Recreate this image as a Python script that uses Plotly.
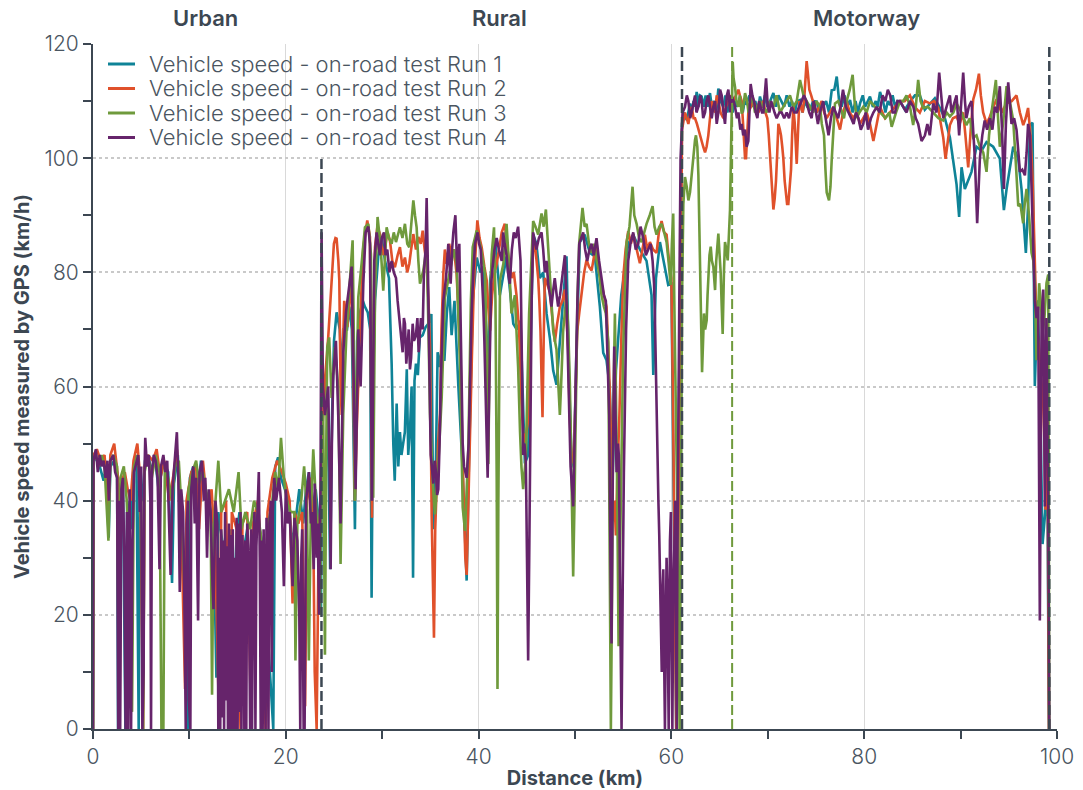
import plotly.graph_objects as go

# GPS speed readings (distance km, speed km/h) for each on-road run
run1_trace = [
    (0.0, 0), (0.05, 48), (0.4, 47), (0.7, 46), (1.1, 43.5), (1.35, 46), (1.63, 33.5), (1.8, 46), (2.2, 47),
    (2.5, 45), (2.6, 0), (2.75, 42), (3.1, 44), (3.36, 0), (3.55, 40), (3.9, 35), (4.2, 46), (4.5, 48),
    (4.74, 0), (4.84, 43), (5.1, 40), (5.4, 47), (5.7, 48), (6.1, 45), (6.4, 48), (6.8, 42), (7.3, 47),
    (7.8, 45), (8.2, 25.6), (8.4, 43), (8.8, 48), (9.1, 38), (9.6, 20), (9.76, 0), (9.9, 0), (10.05, 44),
    (10.4, 46), (10.8, 40), (11.2, 47), (11.6, 42), (12.0, 40), (12.5, 36), (12.8, 9), (13.0, 38), (13.4, 33),
    (13.84, 24.7), (14.2, 35), (14.6, 20), (14.9, 34), (15.2, 38), (15.5, 30), (16.0, 35), (16.5, 12),
    (16.8, 38), (17.2, 36), (17.6, 32), (18.0, 20), (18.4, 8.5), (18.7, 0), (18.9, 45.9), (19.2, 47.6),
    (19.5, 44), (19.9, 42), (20.3, 40), (20.7, 32), (21.0, 36), (21.4, 42), (21.8, 36), (22.1, 42),
    (22.4, 45), (22.7, 38), (23.1, 42), (23.5, 35), (23.65, 20),
    (23.75, 55), (23.95, 62), (24.2, 60), (24.45, 45), (24.6, 28), (24.8, 55), (25.0, 68), (25.27, 73),
    (25.6, 70), (25.8, 62), (26.0, 70), (26.35, 70), (26.6, 74), (26.85, 70), (27.17, 35), (27.4, 68),
    (27.7, 73), (28.0, 75), (28.2, 74), (28.5, 73), (28.75, 70), (28.9, 23), (29.05, 60), (29.25, 75),
    (29.6, 83), (29.95, 86), (30.3, 82), (30.7, 79), (30.98, 64), (31.15, 50), (31.3, 43.5), (31.5, 57),
    (31.67, 46), (31.84, 52), (32.0, 48), (32.35, 52), (32.55, 63), (32.7, 48), (32.9, 53), (33.05, 60),
    (33.2, 26.5), (33.35, 61), (33.5, 64), (33.7, 62), (33.9, 68.6), (34.2, 69), (34.5, 70.4), (34.8, 71),
    (35.1, 72.7), (35.3, 35), (35.55, 44.6), (35.75, 66), (36.0, 63.4), (36.2, 68), (36.45, 64.5),
    (36.7, 72.7), (36.95, 77.4), (37.2, 69), (37.5, 75), (37.9, 60), (38.3, 47), (38.76, 26), (39.0, 47),
    (39.4, 75), (39.8, 82.6), (40.2, 80), (40.5, 81), (40.8, 70), (41.0, 60), (41.2, 78.6), (41.7, 86),
    (42.2, 76), (42.9, 82.8), (43.6, 71), (43.95, 70), (44.35, 71.5), (44.62, 54), (44.8, 46.5), (45.14, 48),
    (45.38, 66.5), (45.66, 86.6), (46.0, 85), (46.35, 79), (46.7, 80), (47.05, 72.8), (47.4, 68.4),
    (47.74, 62.8), (48.08, 60.3), (48.43, 67.8), (48.77, 76), (49.12, 82.8), (49.4, 60.3), (49.64, 47.7),
    (49.88, 45.8), (50.15, 66.5), (50.5, 85.3), (51.0, 86.6), (51.55, 83.4), (52.06, 82.8), (52.58, 74),
    (52.93, 65.9), (53.27, 64.6), (53.6, 60), (53.9, 44), (54.25, 62.8), (54.8, 76), (55.52, 85),
    (56.04, 86.6), (56.73, 84), (57.42, 82), (57.94, 76), (58.12, 62), (58.4, 79), (58.81, 85.3),
    (59.16, 82), (59.5, 79), (59.67, 77.8), (60.0, 78), (60.3, 30), (60.5, 0), (60.8, 60),
    (61.1, 106), (61.3, 108), (61.59, 106.7), (61.75, 108), (61.93, 109.6), (62.1, 108), (62.3, 110),
    (62.45, 109), (62.62, 111.6), (62.8, 109), (62.95, 111), (63.14, 110.8), (63.35, 109), (63.55, 111),
    (63.75, 109), (64.0, 111.4), (64.2, 109), (64.45, 110), (64.65, 108), (64.87, 112.2), (65.1, 110),
    (65.39, 109), (65.6, 111), (65.8, 108), (66.08, 110.2), (66.35, 108), (66.6, 110), (66.85, 109),
    (67.12, 110.8), (67.4, 108), (67.6, 110), (67.81, 109.6), (68.1, 111), (68.4, 109), (68.7, 110),
    (68.95, 108), (69.19, 110.8), (69.45, 109), (69.7, 111), (69.95, 109), (70.25, 110), (70.58, 111.4),
    (70.85, 109), (71.1, 111), (71.4, 110), (71.7, 109), (71.96, 111), (72.25, 109), (72.5, 110),
    (72.8, 108), (73.05, 110), (73.34, 110.2), (73.6, 108), (73.85, 110), (74.1, 109), (74.38, 108.4),
    (74.7, 110), (75.07, 109.9), (75.4, 108), (75.76, 109), (76.05, 110), (76.35, 108), (76.63, 111.9),
    (76.9, 112), (77.15, 114.3), (77.4, 110), (77.66, 109), (77.95, 111), (78.25, 109), (78.53, 110.2),
    (78.8, 108), (79.1, 110), (79.35, 108), (79.57, 109.6), (79.85, 111), (80.1, 109), (80.35, 110),
    (80.6, 110.8), (80.9, 109), (81.2, 110), (81.4, 109), (81.64, 111.6), (81.95, 110), (82.2, 108),
    (82.45, 110), (82.68, 109.3), (82.95, 111), (83.2, 109), (83.45, 110), (83.72, 109.9),
    (84.22, 108.5), (84.74, 109.9), (85.26, 111), (85.77, 111), (86.29, 108.5), (86.81, 109.6),
    (87.33, 110.5), (87.85, 108.8), (88.37, 107), (88.89, 103.6), (89.23, 99.1), (89.58, 95.4),
    (89.85, 89.7), (90.1, 98.4), (90.44, 94.6), (90.79, 96.1), (91.13, 97.6), (91.65, 102), (92.17, 101.3),
    (92.69, 102.8), (93.38, 102), (94.07, 99.9), (94.49, 90.9), (94.77, 94.6), (95.46, 102), (95.98, 99.9),
    (96.32, 94.6), (96.77, 83.4), (97.01, 92), (97.19, 105.8), (97.46, 106.2), (97.7, 60.1), (97.98, 75.1),
    (98.22, 61.6), (98.5, 32.4), (98.78, 38), (98.98, 50), (99.16, 0),
]

run2_trace = [
    (0.0, 0), (0.05, 48), (0.4, 49), (0.8, 47), (1.2, 48), (1.6, 38), (1.8, 48), (2.2, 50), (2.6, 44),
    (2.75, 0), (2.9, 43), (3.3, 45), (3.6, 42), (3.9, 40), (4.2, 47), (4.6, 50), (4.9, 44), (5.2, 0),
    (5.35, 46), (5.7, 48), (6.2, 47), (6.6, 49), (7.0, 44), (7.4, 47), (7.9, 40), (8.3, 44), (8.7, 49),
    (9.1, 40), (9.55, 7), (9.7, 40), (10.2, 45), (10.7, 46), (11.0, 35), (11.4, 47), (11.9, 38), (12.3, 42),
    (12.7, 30), (13.1, 0), (13.3, 38), (13.8, 40), (14.2, 0), (14.4, 38), (14.9, 35), (15.3, 0), (15.5, 36),
    (16.0, 38), (16.4, 0), (16.6, 36), (17.1, 40), (17.5, 30), (17.9, 0), (18.1, 38), (18.6, 44), (19.1, 47),
    (19.6, 45), (20.0, 43), (20.4, 40), (20.7, 22), (20.9, 38), (21.3, 36), (21.7, 38), (22.0, 4), (22.2, 40),
    (22.6, 44), (22.85, 35), (23.0, 10), (23.2, 0), (23.4, 32), (23.6, 40), (23.75, 52),
    (23.88, 55), (24.1, 62), (24.4, 68.6), (24.75, 78.6), (24.99, 85), (25.15, 86), (25.27, 85.9),
    (25.45, 82), (25.55, 78.6), (25.68, 60), (25.8, 55), (25.95, 68), (26.06, 75), (26.38, 70.4),
    (26.6, 75), (26.83, 79), (27.0, 62), (27.17, 40), (27.35, 52), (27.52, 61), (27.8, 75), (28.04, 84.4),
    (28.25, 87), (28.45, 89.1), (28.73, 86.2), (28.94, 37), (29.1, 70), (29.25, 84.4), (29.5, 88),
    (29.77, 86.7), (30.05, 83), (30.29, 84.4), (30.55, 87), (30.8, 85.6), (31.05, 82), (31.32, 80.9),
    (31.6, 83), (31.84, 84.4), (32.1, 81), (32.36, 82.6), (32.6, 80), (32.81, 81.5), (33.0, 84),
    (33.23, 86.7), (33.5, 84), (33.75, 86.2), (34.0, 85), (34.2, 87.3), (34.4, 84), (34.61, 81.5),
    (34.8, 75), (34.96, 66.9), (35.13, 37.6), (35.28, 25), (35.37, 16), (35.5, 35), (35.65, 43.5),
    (35.8, 50), (36.0, 55.2), (36.15, 70), (36.34, 79.7), (36.5, 84), (36.69, 81.5), (36.95, 85),
    (37.2, 82.6), (37.45, 84), (37.72, 79.7), (37.95, 70), (38.14, 64), (38.3, 50), (38.49, 40),
    (38.62, 30), (38.76, 27), (38.9, 38), (39.1, 48), (39.3, 65), (39.52, 78.6), (39.7, 85), (39.87, 89.1),
    (40.1, 86), (40.32, 84.4), (40.6, 81), (40.84, 78.6), (41.0, 74), (41.19, 69.8), (41.4, 76),
    (41.65, 80), (41.88, 81.5), (42.2, 85.3), (42.4, 87), (42.72, 88.5), (43.0, 84), (43.41, 79),
    (43.65, 80), (43.93, 76), (44.2, 70), (44.45, 57), (44.62, 52), (44.8, 50.2), (44.95, 52), (45.14, 54),
    (45.3, 70), (45.49, 79), (45.66, 84), (45.83, 85.3), (46.0, 82), (46.18, 79), (46.3, 75), (46.42, 69.7),
    (46.55, 60), (46.63, 54.6), (46.75, 68), (46.87, 79), (47.1, 78), (47.39, 76.6), (47.65, 72),
    (47.91, 67.8), (48.15, 71), (48.43, 74), (48.7, 75), (48.95, 77), (49.12, 72), (49.29, 66.5),
    (49.45, 55), (49.64, 47.7), (49.88, 46.5), (50.05, 58), (50.23, 69.7), (50.45, 73), (50.68, 76.6),
    (50.95, 80), (51.2, 82.2), (51.45, 81), (51.72, 80.3), (51.98, 83), (52.23, 85.3), (52.5, 80),
    (52.75, 77.8), (53.0, 76), (53.27, 74), (53.5, 65), (53.69, 54), (53.82, 45), (53.96, 36.4),
    (54.1, 40), (54.24, 33.9), (54.4, 45), (54.59, 54), (54.8, 68), (55.0, 79), (55.25, 84), (55.52, 87.2),
    (55.8, 85), (56.04, 86.6), (56.4, 84), (56.73, 81.6), (57.0, 84), (57.25, 86.6), (57.5, 84),
    (57.77, 85.3), (58.1, 84), (58.46, 83.4), (58.7, 87), (58.98, 89), (59.25, 87), (59.5, 86.6),
    (59.75, 82), (60.0, 79), (60.15, 60), (60.26, 41.4), (60.4, 20), (60.5, 0), (60.65, 20), (60.8, 50),
    (60.95, 85), (61.1, 105),
    (61.41, 108), (61.6, 107), (61.76, 106), (61.95, 108), (62.1, 109), (62.3, 107), (62.45, 107),
    (62.65, 106), (62.8, 105), (62.95, 104), (63.14, 103), (63.3, 102), (63.49, 101), (63.65, 102),
    (63.83, 104), (64.0, 107), (64.18, 110), (64.35, 109), (64.53, 108), (64.7, 111), (64.87, 110),
    (65.1, 108), (65.39, 107), (65.65, 109), (65.91, 110), (66.2, 111), (66.43, 110), (66.7, 111),
    (66.95, 112), (67.1, 111), (67.29, 110), (67.4, 107), (67.53, 104), (67.64, 100), (67.74, 100),
    (67.85, 104), (67.98, 108), (68.25, 109), (68.5, 110), (68.75, 109), (69.02, 108), (69.3, 109),
    (69.54, 110), (69.75, 108), (69.95, 107), (70.1, 104), (70.23, 100), (70.4, 95), (70.58, 91),
    (70.72, 93), (70.85, 96), (70.98, 101), (71.1, 106), (71.25, 105), (71.37, 104), (71.5, 102),
    (71.61, 100), (71.75, 96), (71.89, 93), (72.0, 92), (72.13, 92), (72.28, 95), (72.41, 98),
    (72.52, 104), (72.65, 109), (72.8, 106), (72.9, 101), (73.0, 99), (73.12, 104), (73.27, 110),
    (73.45, 109), (73.62, 108), (73.8, 111), (73.92, 114), (74.03, 117), (74.15, 115), (74.31, 112),
    (74.5, 111), (74.66, 110), (74.85, 109), (75.07, 108), (75.3, 109), (75.59, 110), (75.85, 108),
    (76.11, 107), (76.45, 108), (76.8, 109), (77.15, 107), (77.49, 105), (77.8, 108), (78.18, 110),
    (78.5, 108), (78.88, 107), (79.2, 108), (79.57, 106), (79.9, 107), (80.26, 108), (80.6, 106),
    (80.95, 103), (81.3, 106), (81.64, 109), (82.15, 107), (82.68, 108), (83.2, 109), (83.72, 110),
    (84.2, 110), (84.74, 111), (85.25, 109), (85.77, 108), (86.3, 110), (86.81, 109.6), (87.25, 110),
    (87.68, 108.8), (87.95, 106), (88.2, 103.6), (88.44, 99.9), (88.65, 103), (88.89, 105.8), (89.2, 107),
    (89.58, 107.3), (89.9, 106), (90.27, 108), (90.5, 104), (90.79, 98.4), (91.05, 105), (91.31, 110.3),
    (91.6, 112), (91.9, 114.8), (92.1, 111), (92.34, 108), (92.7, 106), (93.04, 107.3), (93.4, 109),
    (93.73, 110.3), (94.25, 108), (94.77, 109.6), (95.3, 110), (95.8, 111), (96.15, 108), (96.5, 105.8),
    (96.75, 107), (97.0, 108.8), (97.25, 104), (97.46, 96.9), (97.65, 85), (97.88, 70.6), (98.05, 68),
    (98.22, 64.6), (98.4, 60), (98.57, 57), (98.7, 50), (98.81, 38.4), (98.9, 55), (98.98, 65), (99.16, 0),
]

run3_trace = [
    (0.0, 0), (0.05, 47), (0.3, 48), (0.6, 46), (0.9, 48), (1.2, 46), (1.6, 33), (1.8, 47), (2.1, 48),
    (2.5, 46), (2.7, 0), (2.85, 44), (3.2, 46), (3.5, 40), (3.8, 30), (4.05, 3), (4.25, 46), (4.6, 48),
    (5.0, 40), (5.2, 0), (5.35, 45), (5.7, 48), (6.1, 44), (6.5, 48), (6.9, 45), (7.1, 0), (7.3, 0),
    (7.45, 46), (7.8, 44), (8.2, 40), (8.5, 46), (8.9, 47), (9.3, 35), (9.7, 12), (9.9, 42), (10.3, 45),
    (10.7, 47), (11.0, 43), (11.4, 45), (11.9, 40), (12.2, 38), (12.35, 6), (12.5, 35), (12.7, 40),
    (13.0, 47), (13.3, 38), (13.7, 40), (14.1, 42), (14.6, 38), (15.1, 45), (15.4, 35), (15.8, 38),
    (16.3, 35), (16.7, 40), (17.1, 38), (17.4, 34), (17.8, 25), (18.2, 36), (18.6, 40), (18.9, 45),
    (19.2, 42), (19.5, 51), (19.8, 44), (20.1, 40), (20.5, 38), (20.9, 38), (21.0, 12), (21.2, 36),
    (21.6, 40), (21.9, 46), (22.2, 38), (22.39, 12), (22.6, 38), (22.85, 49), (23.19, 37.6), (23.4, 30),
    (23.54, 20), (23.7, 45),
    (23.88, 55.2), (24.06, 13), (24.2, 50), (24.3, 66.9), (24.5, 68.6), (24.75, 58), (25.1, 66.9),
    (25.44, 59.8), (25.68, 28.9), (25.96, 55.2), (26.3, 69.8), (26.65, 78.6), (26.93, 85.6), (27.05, 70),
    (27.17, 40), (27.35, 60), (27.52, 75.6), (27.86, 81.5), (28.21, 87.9), (28.56, 88.5), (28.83, 83.2),
    (29.07, 40.5), (29.25, 75.6), (29.52, 89.7), (29.84, 84.4), (30.11, 76.8), (30.46, 87.9), (30.7, 86),
    (30.98, 85), (31.2, 87), (31.43, 85.3), (31.84, 87.9), (32.1, 86), (32.36, 88.5), (32.6, 85),
    (32.81, 84.4), (33.0, 88), (33.23, 92.6), (33.4, 90), (33.57, 87.9), (33.75, 82), (33.92, 78),
    (34.26, 80.3), (34.45, 83), (34.61, 84.4), (34.8, 70), (34.96, 55.2), (35.23, 43.5), (35.48, 37.6),
    (35.82, 46.4), (36.17, 58), (36.51, 75.6), (36.86, 78.6), (37.2, 81.5), (37.45, 84), (37.72, 81.5),
    (38.07, 64), (38.35, 38.8), (38.59, 34.7), (38.94, 49.3), (39.2, 75), (39.39, 84.4), (39.8, 87.3),
    (40.22, 84.4), (40.67, 79.7), (40.85, 65), (41.01, 46.4), (41.2, 75), (41.36, 83.2), (41.6, 87.9),
    (41.75, 75), (41.88, 43.5), (41.96, 7), (42.05, 40), (42.22, 78.6), (42.57, 81.5), (42.9, 88.5),
    (43.2, 80), (43.41, 72.8), (43.76, 76), (44.1, 63.4), (44.3, 52), (44.45, 45.8), (44.62, 42),
    (44.9, 47.7), (45.24, 72.8), (45.66, 89), (45.9, 88), (46.18, 86.6), (46.53, 90.3), (46.75, 88),
    (46.98, 91), (47.2, 85), (47.39, 79), (47.74, 69.7), (48.08, 66.5), (48.25, 60), (48.43, 55),
    (48.6, 62), (48.77, 69.7), (49.12, 76), (49.3, 70), (49.47, 60.3), (49.65, 40), (49.81, 26.7),
    (49.95, 40), (50.09, 54), (50.25, 75), (50.44, 85.3), (50.78, 91.3), (51.0, 88), (51.2, 88.5),
    (51.45, 85), (51.72, 83.4), (52.0, 85), (52.23, 82.2), (52.5, 80), (52.75, 76), (53.0, 74),
    (53.2, 72.8), (53.45, 67.8), (53.6, 30), (53.72, 0), (53.85, 25), (53.96, 54), (54.14, 72.8),
    (54.25, 60), (54.38, 41.4), (54.52, 14.5), (54.62, 25), (54.73, 41.4), (55.0, 66.5), (55.35, 85.3),
    (55.65, 88), (55.97, 95), (56.15, 90), (56.39, 88.5), (56.65, 86), (56.91, 85.3), (57.15, 87),
    (57.42, 88.5), (57.75, 90), (58.05, 91.6), (58.25, 88), (58.46, 86.6), (58.75, 88), (58.98, 88.5),
    (59.25, 87), (59.5, 85.3), (59.7, 82), (59.92, 77.8), (60.05, 85), (60.19, 90.3), (60.3, 75),
    (60.45, 60), (60.6, 40), (60.75, 20), (60.85, 0), (61.0, 40), (61.1, 75),
    (61.24, 92), (61.41, 96.7), (61.59, 95), (61.76, 92.6), (61.93, 94), (62.1, 97.3), (62.3, 100),
    (62.45, 103.2), (62.55, 104), (62.69, 102), (62.8, 97), (62.9, 90), (63.04, 75), (63.18, 62.5),
    (63.28, 68), (63.38, 72.8), (63.5, 70), (63.66, 71.6), (63.75, 76), (63.83, 79), (63.95, 83),
    (64.08, 84.5), (64.2, 82), (64.35, 81), (64.45, 78), (64.53, 76.9), (64.65, 82), (64.75, 85),
    (64.87, 86.8), (65.0, 83), (65.11, 80), (65.22, 74), (65.32, 69.2), (65.45, 80), (65.56, 85.3),
    (65.7, 84), (65.84, 82.1), (65.95, 86), (66.08, 90.9), (66.22, 105), (66.36, 116.9), (66.45, 114),
    (66.6, 112.5), (66.75, 110), (66.95, 109), (67.1, 111), (67.29, 107.8), (67.45, 109), (67.64, 111.4),
    (67.85, 110), (68.0, 108), (68.16, 109.6), (68.4, 111), (68.67, 108), (68.9, 109), (69.19, 110),
    (69.5, 109), (69.89, 108), (70.2, 110), (70.58, 109), (70.9, 111), (71.27, 108), (71.6, 109),
    (71.96, 110), (72.3, 111), (72.65, 109), (73.0, 110), (73.34, 113.7), (73.7, 111), (74.03, 110),
    (74.35, 109), (74.72, 108), (75.05, 110), (75.42, 109), (75.6, 106), (75.83, 104), (75.98, 98),
    (76.11, 94), (76.35, 92.6), (76.5, 95), (76.63, 99.7), (76.8, 105), (76.97, 109.6), (77.3, 110),
    (77.66, 108), (77.9, 107), (78.18, 110), (78.5, 112), (78.8, 114.6), (79.0, 110), (79.22, 107),
    (79.5, 108), (79.91, 109), (80.25, 108), (80.6, 110), (81.1, 109), (81.64, 108), (82.2, 107),
    (82.6, 108), (82.85, 105.5), (83.3, 108), (83.72, 110),
    (84.05, 110), (84.39, 111), (84.75, 109), (85.08, 105.8), (85.35, 109), (85.6, 113.7), (85.85, 110),
    (86.12, 108.8), (86.6, 109), (87.16, 108), (87.7, 107), (88.2, 106.6), (88.55, 108), (88.89, 107.3),
    (89.25, 108), (89.58, 109.6), (90.1, 108), (90.6, 105.8), (90.95, 107), (91.31, 103.6), (91.65, 104),
    (92.0, 102), (92.35, 101), (92.69, 97.6), (92.95, 104), (93.21, 108), (93.45, 111), (93.66, 113.7),
    (93.85, 108), (94.07, 102), (94.4, 106), (94.77, 112.6), (95.1, 110), (95.46, 106.6), (95.7, 100),
    (95.98, 91.6), (96.2, 92), (96.49, 88.6), (96.65, 92), (96.84, 94.6), (97.1, 90), (97.36, 83.4),
    (97.55, 82), (97.7, 78.1), (97.88, 64.6), (98.0, 70), (98.15, 78.1), (98.35, 74), (98.5, 69.1),
    (98.7, 72), (98.91, 78.1), (99.09, 79.6), (99.2, 0),
]

run4_trace = [
    (0.0, 0), (0.05, 47), (0.3, 49), (0.5, 45), (0.7, 48), (0.9, 46), (1.1, 47), (1.3, 44), (1.5, 47),
    (1.65, 40), (1.8, 47), (2.1, 48), (2.3, 45), (2.5, 44), (2.62, 0), (2.72, 40), (2.82, 0), (2.95, 42),
    (3.1, 44), (3.25, 30), (3.38, 0), (3.52, 38), (3.65, 0), (3.8, 42), (3.95, 0), (4.1, 33), (4.25, 45),
    (4.5, 47), (4.7, 48), (4.85, 38), (5.0, 46), (5.12, 0), (5.25, 10), (5.33, 44), (5.42, 51), (5.6, 46),
    (5.8, 48), (5.95, 40), (6.02, 0), (6.12, 45), (6.3, 48), (6.5, 47), (6.7, 44), (6.9, 28), (7.05, 46),
    (7.3, 48), (7.5, 45), (7.7, 47), (7.9, 35), (8.05, 27), (8.25, 42), (8.5, 47), (8.7, 52), (8.85, 44),
    (9.0, 24), (9.15, 42), (9.35, 38), (9.5, 20), (9.62, 0), (9.72, 36), (9.85, 40), (9.95, 5), (10.1, 0),
    (10.2, 42), (10.4, 46), (10.55, 36), (10.7, 44), (10.9, 19), (11.05, 45), (11.3, 47), (11.5, 40),
    (11.65, 44), (11.83, 30), (12.0, 42), (12.2, 38), (12.4, 25), (12.5, 21), (12.7, 40), (12.9, 36),
    (13.0, 0), (13.1, 30), (13.2, 0), (13.3, 35), (13.4, 2), (13.5, 33), (13.6, 0), (13.7, 38), (13.82, 5),
    (13.9, 32), (14.0, 0), (14.1, 36), (14.2, 0), (14.3, 34), (14.4, 0), (14.5, 35), (14.6, 0), (14.7, 30),
    (14.8, 0), (14.9, 37), (15.0, 0), (15.1, 36), (15.2, 3), (15.3, 38), (15.4, 0), (15.5, 34), (15.6, 25),
    (15.7, 0), (15.8, 33), (15.9, 0), (16.0, 36), (16.15, 30), (16.3, 0), (16.4, 35), (16.5, 0),
    (16.6, 30), (16.75, 38), (16.85, 0), (16.95, 32), (17.1, 42), (17.2, 45), (17.3, 30), (17.4, 0),
    (17.5, 33), (17.6, 0), (17.7, 35), (17.8, 20), (17.9, 0), (18.0, 37), (18.1, 28), (18.2, 0), (18.3, 36),
    (18.45, 40), (18.55, 10), (18.65, 38), (18.8, 44), (19.0, 40), (19.3, 44), (19.6, 38), (19.8, 25),
    (20.0, 42), (20.2, 36), (20.4, 38), (20.7, 25), (20.9, 37), (21.2, 33), (21.4, 20), (21.5, 0),
    (21.6, 30), (21.7, 35), (21.85, 0), (21.95, 0), (22.1, 40), (22.4, 45), (22.6, 36), (22.7, 38),
    (22.9, 28), (23.0, 43), (23.2, 30), (23.3, 36), (23.45, 20), (23.6, 42),
    (23.71, 87), (23.85, 60), (24.06, 55), (24.25, 58), (24.4, 60), (24.55, 45), (24.65, 28), (24.78, 50),
    (24.92, 62), (25.2, 68), (25.44, 55), (25.68, 36), (25.96, 66), (26.24, 73), (26.58, 78), (26.83, 81),
    (27.0, 65), (27.24, 42), (27.52, 70), (27.76, 60), (28.04, 78), (28.28, 87), (28.56, 88), (28.73, 85),
    (28.94, 40), (29.18, 82), (29.42, 87), (29.6, 85), (29.77, 83), (29.95, 86), (30.18, 87), (30.35, 83),
    (30.53, 84), (30.75, 80), (30.98, 82), (31.2, 80), (31.43, 79), (31.6, 75), (31.77, 72), (31.95, 68),
    (32.12, 66), (32.25, 72), (32.36, 71), (32.5, 64), (32.6, 67), (32.75, 70), (32.88, 63), (33.0, 65),
    (33.16, 71), (33.3, 68), (33.5, 69), (33.65, 72), (33.78, 66), (34.02, 72), (34.2, 70), (34.33, 80),
    (34.5, 84), (34.61, 93), (34.75, 80), (34.85, 70), (35.03, 48), (35.15, 46), (35.3, 43), (35.45, 47),
    (35.58, 45), (35.7, 41), (35.82, 42), (35.95, 50), (36.1, 62), (36.34, 75), (36.5, 77), (36.62, 79),
    (36.86, 85), (37.0, 80), (37.1, 78), (37.25, 84), (37.38, 87), (37.59, 90), (37.79, 80), (38.0, 85),
    (38.1, 75), (38.24, 60), (38.35, 50), (38.49, 46), (38.62, 45), (38.76, 44), (38.97, 50), (39.1, 60),
    (39.28, 73), (39.45, 80), (39.63, 85), (39.9, 87), (40.05, 85), (40.22, 84), (40.35, 80), (40.49, 74),
    (40.6, 68), (40.74, 60), (40.85, 50), (40.94, 44), (41.05, 55), (41.19, 72), (41.3, 78), (41.46, 81),
    (41.65, 84), (41.88, 86), (42.1, 84), (42.4, 82), (42.55, 87), (42.7, 85), (42.9, 83), (43.05, 80),
    (43.24, 78), (43.45, 84), (43.65, 87), (43.85, 86), (44.1, 88), (44.35, 82), (44.5, 65), (44.62, 48),
    (44.75, 50), (44.9, 47), (45.02, 30), (45.14, 12), (45.25, 30), (45.38, 55), (45.5, 75), (45.66, 87),
    (45.85, 85), (46.0, 84), (46.25, 86), (46.53, 87), (46.7, 84), (46.87, 80), (47.05, 82), (47.22, 78),
    (47.4, 76), (47.56, 74), (47.75, 77), (47.9, 79), (48.1, 76), (48.25, 74), (48.45, 76), (48.6, 78),
    (48.8, 80), (48.95, 83), (49.12, 75), (49.3, 60), (49.42, 50), (49.54, 46), (49.7, 42), (49.81, 39),
    (49.95, 50), (50.09, 62), (50.25, 75), (50.44, 85), (50.65, 86), (50.85, 87), (51.05, 84), (51.27, 82),
    (51.5, 84), (51.72, 85), (51.95, 83), (52.23, 86), (52.5, 82), (52.75, 79), (53.0, 76), (53.2, 75),
    (53.38, 65), (53.55, 55), (53.68, 30), (53.79, 15), (53.92, 45), (54.07, 67), (54.2, 55), (54.31, 45),
    (54.45, 50), (54.55, 48), (54.7, 20), (54.83, 0), (54.95, 25), (55.07, 45), (55.3, 70), (55.52, 82),
    (55.75, 85), (56.04, 87), (56.3, 84), (56.56, 85), (56.8, 88), (57.08, 86), (57.35, 83), (57.6, 84),
    (57.85, 85), (58.05, 82), (58.2, 78), (58.29, 72), (58.4, 60), (58.53, 47), (58.65, 40), (58.74, 34),
    (58.83, 25), (58.91, 18), (59.0, 10), (59.08, 24), (59.16, 28), (59.25, 12), (59.33, 0), (59.42, 18),
    (59.5, 30), (59.57, 25), (59.65, 8), (59.72, 0), (59.78, 15), (59.85, 33), (59.95, 38), (60.02, 20),
    (60.1, 0), (60.19, 22), (60.3, 35), (60.4, 40), (60.47, 20), (60.55, 0), (60.62, 30), (60.71, 60),
    (60.82, 75), (60.95, 100),
    (61.16, 108), (61.41, 109), (61.6, 111), (61.76, 110), (61.95, 107), (62.1, 108), (62.3, 110),
    (62.45, 111), (62.6, 108), (62.8, 109), (63.0, 111), (63.14, 110), (63.3, 107), (63.49, 108),
    (63.65, 110), (63.83, 111), (64.0, 109), (64.18, 107), (64.35, 109), (64.53, 110), (64.7, 106),
    (64.87, 108), (65.05, 112), (65.22, 111), (65.4, 108), (65.56, 106), (65.75, 111), (65.91, 112),
    (66.1, 108), (66.25, 111), (66.45, 110), (66.6, 109), (66.8, 107), (66.95, 108), (67.15, 105),
    (67.29, 106), (67.45, 104), (67.64, 105), (67.8, 102), (67.98, 103), (68.1, 108), (68.22, 113),
    (68.4, 111), (68.57, 110), (68.75, 108), (68.92, 107), (69.1, 110), (69.26, 109), (69.4, 108),
    (69.54, 108), (69.7, 111), (69.82, 114), (70.0, 109), (70.16, 108), (70.35, 110), (70.5, 109),
    (70.7, 108), (70.92, 107), (71.2, 108), (71.44, 108), (71.7, 107), (71.96, 108), (72.2, 107),
    (72.48, 109), (72.75, 108), (73.0, 108), (73.25, 109), (73.5, 110), (73.75, 111), (74.0, 110),
    (74.3, 108), (74.55, 107), (74.75, 110), (74.9, 109), (75.05, 107), (75.2, 106), (75.4, 108),
    (75.6, 109), (75.75, 110), (75.9, 108), (76.1, 106), (76.3, 104), (76.55, 107), (76.8, 109),
    (77.05, 108), (77.3, 107), (77.55, 109), (77.8, 112), (78.1, 109), (78.4, 108), (78.65, 107),
    (78.9, 106), (79.15, 108), (79.4, 107), (79.65, 105), (79.9, 106), (80.15, 108), (80.4, 105),
    (80.7, 107), (80.95, 108), (81.3, 109), (81.6, 108), (81.9, 111), (82.2, 110), (82.45, 112),
    (82.7, 111), (82.95, 108), (83.2, 108), (83.45, 110), (83.7, 110),
    (84.05, 109), (84.4, 108), (84.75, 110), (85.1, 109), (85.35, 107), (85.6, 106), (85.95, 103),
    (86.3, 104), (86.55, 106), (86.8, 104), (87.16, 109.6), (87.5, 108), (87.78, 115), (88.0, 111),
    (88.2, 107), (88.54, 109), (88.89, 111), (89.05, 108), (89.23, 109), (89.58, 111), (89.85, 104),
    (90.05, 110), (90.27, 115), (90.45, 110), (90.6, 107), (90.85, 109), (91.13, 110), (91.3, 105),
    (91.48, 100), (91.72, 88.6), (92.0, 100), (92.25, 104), (92.5, 106.6), (92.75, 105), (93.04, 107),
    (93.3, 105), (93.55, 109), (93.8, 108), (94.07, 112.6), (94.3, 105), (94.49, 94.6), (94.7, 106),
    (94.94, 113.3), (95.1, 110), (95.28, 106), (95.55, 107), (95.8, 105), (95.95, 102), (96.15, 97.6),
    (96.4, 98), (96.67, 97), (96.85, 101), (97.0, 106), (97.2, 104), (97.36, 95.4), (97.53, 84),
    (97.7, 75), (97.88, 72), (98.05, 74), (98.22, 19), (98.4, 72), (98.57, 77), (98.74, 39), (98.9, 72),
    (99.09, 40), (99.2, 0),
]

run_names = [
    "Vehicle speed - on-road test Run 1",
    "Vehicle speed - on-road test Run 2",
    "Vehicle speed - on-road test Run 3",
    "Vehicle speed - on-road test Run 4",
]
run_colors = ["#0f8397", "#e0512b", "#6f9a3c", "#66246b"]

# Trip section boundaries (km) and the heights the dashed markers reach
boundary_km = [23.7, 61.1, 99.2]
boundary_top = [100, 120, 120]
run3_motorway_start_km = 66.3

zone_labels = ["Urban", "Rural", "Motorway"]
zone_label_km = [11.7, 42.2, 80.2]

INK = "#3c4752"
TICK_TEXT = "#4a5561"
FONT = "Inter"

# plot-area geometry, used to place the hand-built legend in paper units
FIG_W, FIG_H = 1083, 790
M_L, M_R, M_T, M_B = 93, 26, 44, 61
PLOT_W = FIG_W - M_L - M_R
PLOT_H = FIG_H - M_T - M_B


def px_to_paper(px, py):
    return (px - M_L) / PLOT_W, 1 - (py - M_T) / PLOT_H


fig = go.Figure()
for name, color, pts in zip(run_names, run_colors,
                            [run1_trace, run2_trace, run3_trace, run4_trace]):
    fig.add_trace(go.Scatter(
        x=[p[0] for p in pts], y=[p[1] for p in pts],
        mode="lines", name=name, showlegend=False,
        line=dict(color=color, width=2.6),
    ))

for km, top in zip(boundary_km, boundary_top):
    fig.add_shape(type="line", xref="x", yref="y", x0=km, x1=km, y0=0, y1=top,
                  line=dict(color=INK, width=2.5, dash="10px,4px"), layer="above")
fig.add_shape(type="line", xref="x", yref="y", x0=run3_motorway_start_km,
              x1=run3_motorway_start_km, y0=0, y1=120,
              line=dict(color="#6f9a3c", width=2, dash="10px,4px"), layer="above")

for label, km in zip(zone_labels, zone_label_km):
    fig.add_annotation(x=km, y=1.038, xref="x", yref="paper", text=label,
                       showarrow=False, yanchor="middle",
                       font=dict(family=FONT, size=22, color=INK, weight=600))

# legend: short coloured line followed by the run name, one row per run
for i, (name, color) in enumerate(zip(run_names, run_colors)):
    row_y = 64 + 24.5 * i
    x0, y0 = px_to_paper(108, row_y)
    x1, _ = px_to_paper(135, row_y)
    xt, _ = px_to_paper(147, row_y)
    fig.add_shape(type="line", xref="paper", yref="paper", x0=x0, x1=x1, y0=y0, y1=y0,
                  line=dict(color=color, width=3))
    fig.add_annotation(x=xt, y=y0, xref="paper", yref="paper", text=name,
                       showarrow=False, xanchor="left", yanchor="middle",
                       font=dict(family=FONT, size=22, color=TICK_TEXT, weight=300))

axis_common = dict(
    showline=True, linecolor=INK, linewidth=2,
    ticks="outside", ticklen=8, tickwidth=1.5, tickcolor=INK,
    tickfont=dict(family=FONT, size=21, color=TICK_TEXT, weight=300),
    zeroline=False, automargin=False,
    minor=dict(dtick=10, ticks="outside", ticklen=8, tickwidth=1.5, tickcolor=INK, showgrid=False),
)

fig.update_xaxes(
    range=[0, 100], tick0=0, dtick=20,
    showgrid=True, gridcolor="#d9d9d9", gridwidth=1,
    title=dict(text="Distance (km)", standoff=4,
               font=dict(family=FONT, size=20, color=INK, weight=700)),
    **axis_common,
)
fig.update_yaxes(
    range=[0, 120], tick0=0, dtick=20,
    showgrid=True, gridcolor="#c9c9c9", gridwidth=1.5, griddash="dot",
    title=dict(text="Vehicle speed measured by GPS (km/h)", standoff=10,
               font=dict(family=FONT, size=20, color=INK, weight=700)),
    **axis_common,
)

fig.update_layout(
    width=FIG_W, height=FIG_H,
    margin=dict(l=M_L, r=M_R, t=M_T, b=M_B),
    paper_bgcolor="white", plot_bgcolor="white",
    font=dict(family=FONT, color=TICK_TEXT),
    showlegend=False,
)

fig.write_html("out.html")
